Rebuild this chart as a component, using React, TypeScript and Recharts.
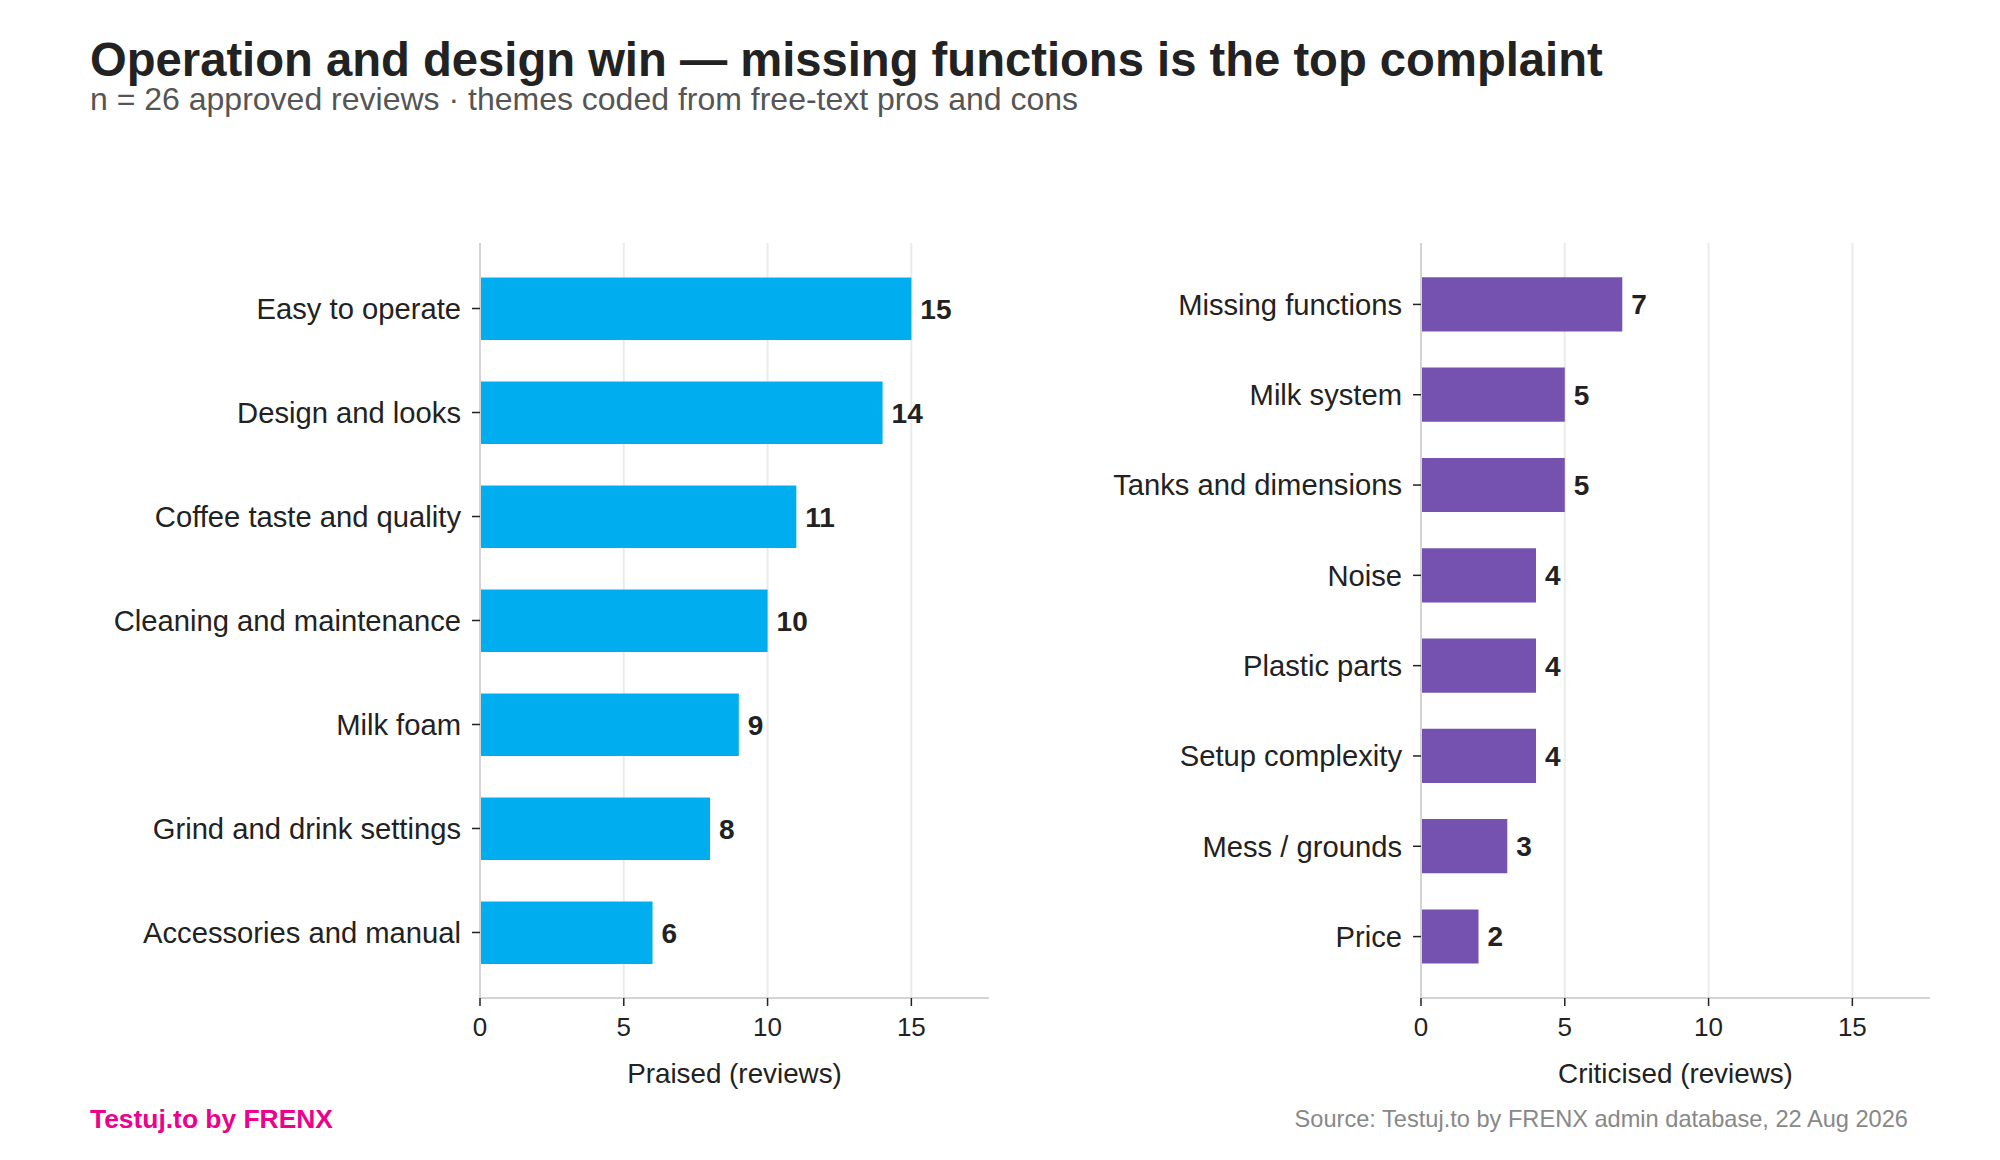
import { BarChart, Bar, XAxis, YAxis, CartesianGrid, LabelList } from "recharts";

// Themes and counts
const praisedThemes = [
  "Easy to operate",
  "Design and looks",
  "Coffee taste and quality",
  "Cleaning and maintenance",
  "Milk foam",
  "Grind and drink settings",
  "Accessories and manual",
];
const praisedCounts = [15, 14, 11, 10, 9, 8, 6];

const criticisedThemes = [
  "Missing functions",
  "Milk system",
  "Tanks and dimensions",
  "Noise",
  "Plastic parts",
  "Setup complexity",
  "Mess / grounds",
  "Price",
];
const criticisedCounts = [7, 5, 5, 4, 4, 4, 3, 2];

const xTicks = [0, 5, 10, 15];
const xMax = 17.7;

const FONT = '"Liberation Sans", Arial, sans-serif';
const INK = "#222222";

const PLOT_TOP = 243;
const PLOT_BOTTOM = 998;

// vertical grid only at the tick values (no line at the right edge)
const gridAtTicks = ({ xAxis, offset }: any) =>
  xTicks.slice(1).map((t) =>
    xAxis && typeof xAxis.scale === "function"
      ? xAxis.scale(t)
      : offset.left + (t / xMax) * offset.width
  );

type PanelProps = {
  themes: string[];
  counts: number[];
  color: string;
  xLabel: string;
  left: number;
  yAxisWidth: number;
  rightMargin: number;
};

const Panel = ({ themes, counts, color, xLabel, left, yAxisWidth, rightMargin }: PanelProps) => {
  const data = themes.map((theme, i) => ({ theme, count: counts[i] }));
  // bar height 0.6 of a category step, 5% margin around the bars (like the source)
  const plotH = PLOT_BOTTOM - PLOT_TOP;
  const step = plotH / ((themes.length - 1 + 0.6) * 1.1);
  const pad = (plotH - themes.length * step) / 2;

  return (
    <div style={{ position: "absolute", left, top: 0 }}>
      <BarChart
        width={1000}
        height={1160}
        data={data}
        layout="vertical"
        margin={{ top: PLOT_TOP, right: rightMargin, bottom: 0, left: 0 }}
      >
        <CartesianGrid
          horizontal={false}
          verticalCoordinatesGenerator={gridAtTicks}
          stroke="#ebebeb"
          strokeWidth={2}
        />
        <XAxis
          type="number"
          domain={[0, xMax]}
          ticks={xTicks}
          allowDataOverflow
          height={1160 - PLOT_BOTTOM}
          axisLine={{ stroke: "#d4d4d4", strokeWidth: 2 }}
          tickLine={{ stroke: INK, strokeWidth: 1.5 }}
          tickSize={8}
          tickMargin={12}
          tick={{ fill: INK, fontSize: 26, fontFamily: FONT }}
          label={{
            value: xLabel,
            position: "insideTop",
            offset: 65,
            fill: INK,
            fontSize: 27.8,
            fontFamily: FONT,
          }}
        />
        <YAxis
          type="category"
          dataKey="theme"
          width={yAxisWidth}
          interval={0}
          padding={{ top: pad, bottom: pad }}
          axisLine={{ stroke: "#d4d4d4", strokeWidth: 2 }}
          tickLine={{ stroke: INK, strokeWidth: 1.5 }}
          tickSize={8}
          tickMargin={11}
          tick={{ fill: INK, fontSize: 29.2, fontFamily: FONT }}
        />
        <Bar dataKey="count" fill={color} barSize={0.6 * step} isAnimationActive={false}>
          <LabelList
            dataKey="count"
            position="right"
            offset={9}
            fill={INK}
            fontSize={28}
            fontWeight="bold"
            fontFamily={FONT}
          />
        </Bar>
      </BarChart>
    </div>
  );
};

const App = () => {
  return (
    <div
      style={{
        position: "absolute",
        left: 0,
        top: 0,
        width: 2000,
        height: 1160,
        background: "#ffffff",
        fontFamily: FONT,
      }}
    >
      <Panel
        themes={praisedThemes}
        counts={praisedCounts}
        color="#00AEEF"
        xLabel="Praised (reviews)"
        left={0}
        yAxisWidth={480}
        rightMargin={11}
      />
      <Panel
        themes={criticisedThemes}
        counts={criticisedCounts}
        color="#7552AF"
        xLabel="Criticised (reviews)"
        left={1000}
        yAxisWidth={421}
        rightMargin={70}
      />
      <svg
        width={2000}
        height={1160}
        style={{ position: "absolute", left: 0, top: 0, pointerEvents: "none" }}
      >
        <text x={90} y={76} fontSize={47.2} fontWeight="bold" fill={INK} fontFamily={FONT}>
          Operation and design win — missing functions is the top complaint
        </text>
        <text x={90} y={109.5} fontSize={32} fill="#555555" fontFamily={FONT}>
          n = 26 approved reviews · themes coded from free-text pros and cons
        </text>
        <text x={90} y={1128} fontSize={26.4} fontWeight="bold" fill="#EC008C" fontFamily={FONT}>
          Testuj.to by FRENX
        </text>
        <text x={1908} y={1127} fontSize={23.6} fill="#888888" textAnchor="end" fontFamily={FONT}>
          Source: Testuj.to by FRENX admin database, 22 Aug 2026
        </text>
      </svg>
    </div>
  );
};

export default App;
